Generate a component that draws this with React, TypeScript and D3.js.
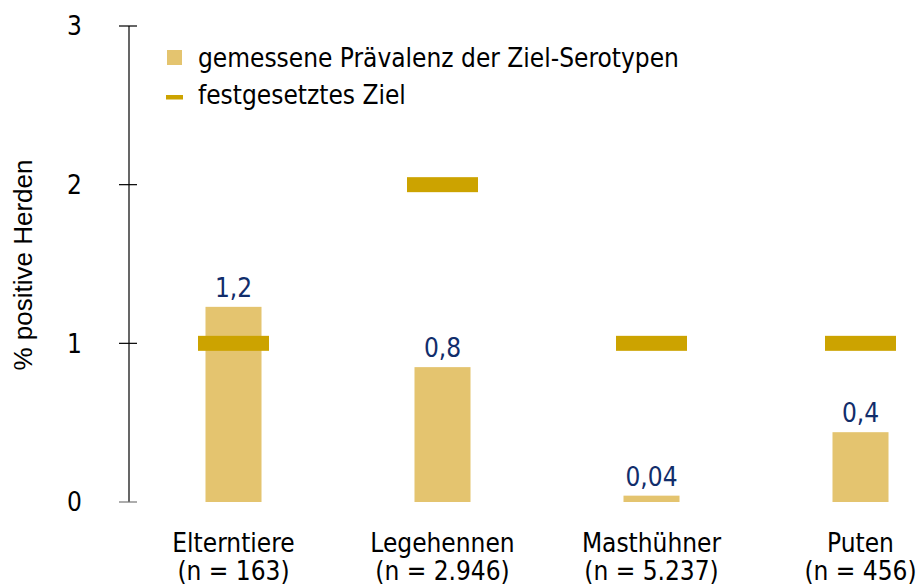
import React from "react";
import * as d3 from "d3";

const categories = ["Elterntiere", "Legehennen", "Masthühner", "Puten"];
const sampleLabels = ["(n = 163)", "(n = 2.946)", "(n = 5.237)", "(n = 456)"];
const prevalence = [1.23, 0.85, 0.04, 0.44];
const prevalenceLabels = ["1,2", "0,8", "0,04", "0,4"];
const targets = [1, 2, 1, 1];
const yTicks = [0, 1, 2, 3];
const legendLabels = ["gemessene Prävalenz der Ziel-Serotypen", "festgesetztes Ziel"];
const yTitle = "% positive Herden";

const W = 920;
const H = 585;
const FONT = "'DejaVu Sans Condensed', 'DejaVu Sans', sans-serif";
const BAR = "#E4C46F";
const TARGET = "#CCA300";
const NAVY = "#112D6B";

export default function App() {
  const axisX = 129;
  const y = d3.scaleLinear().domain([0, 3]).range([502, 26]);
  const x = d3
    .scaleBand<string>()
    .domain(categories)
    .range([axisX, axisX + 836])
    .paddingInner(0.732)
    .paddingOuter(0.366);
  const bw = x.bandwidth();
  const cx = (c: string) => (x(c) as number) + bw / 2;
  const targetW = 71;
  const targetH = 15;

  return (
    <svg
      width={W}
      height={H}
      style={{ position: "absolute", left: 0, top: 0, background: "#fff" }}
      fontFamily={FONT}
    >
      {/* y axis */}
      <line x1={axisX} x2={axisX} y1={y(3)} y2={y(0)} stroke="#000" strokeWidth={1.2} />
      {yTicks.map((t) => (
        <g key={t}>
          <line x1={119} x2={137} y1={y(t)} y2={y(t)} stroke={t === 0 ? "#777" : "#000"} strokeWidth={1.2} />
          <text
            x={82}
            y={y(t)}
            dy="0.36em"
            textAnchor="end"
            fontSize={26}
            fontStretch="condensed"
            fill="#000"
          >
            {t}
          </text>
        </g>
      ))}
      <text
        transform={`translate(32,265) rotate(-90)`}
        textAnchor="middle"
        fontFamily="'Liberation Sans', Arial, sans-serif"
        fontSize={26}
        fill="#000"
      >
        {yTitle}
      </text>

      {/* bars */}
      {categories.map((c, i) => (
        <rect
          key={"b" + c}
          x={x(c)}
          y={y(prevalence[i])}
          width={bw}
          height={y(0) - y(prevalence[i])}
          fill={BAR}
        />
      ))}
      {/* targets */}
      {categories.map((c, i) => (
        <rect
          key={"t" + c}
          x={cx(c) - targetW / 2}
          y={y(targets[i]) - targetH / 2}
          width={targetW}
          height={targetH}
          fill={TARGET}
        />
      ))}
      {/* value labels */}
      {categories.map((c, i) => (
        <text
          key={"v" + c}
          x={cx(c)}
          y={y(prevalence[i]) - 10}
          textAnchor="middle"
          fontSize={26}
          fontStretch="condensed"
          fill={NAVY}
        >
          {prevalenceLabels[i]}
        </text>
      ))}
      {/* category labels */}
      {categories.map((c, i) => (
        <g key={"c" + c}>
          <text x={cx(c)} y={552} textAnchor="middle" fontSize={26} fontStretch="condensed" fill="#000">
            {c}
          </text>
          <text x={cx(c)} y={580} textAnchor="middle" fontSize={26} fontStretch="condensed" fill="#000">
            {sampleLabels[i]}
          </text>
        </g>
      ))}

      {/* legend */}
      <rect x={167} y={50} width={15} height={15} fill={BAR} />
      <text x={198} y={67} fontSize={26} fontStretch="condensed" fill="#000">
        {legendLabels[0]}
      </text>
      <rect x={166} y={95} width={17} height={4.5} fill={TARGET} />
      <text x={198} y={104} fontSize={26} fontStretch="condensed" fill="#000">
        {legendLabels[1]}
      </text>
    </svg>
  );
}
